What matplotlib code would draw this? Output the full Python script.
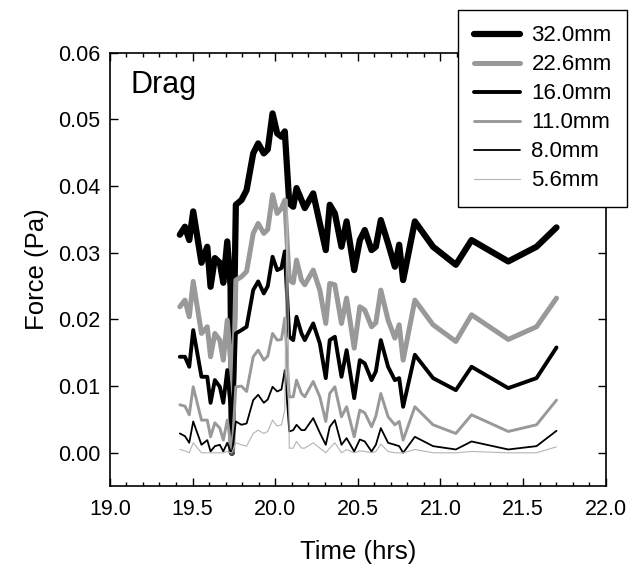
import numpy as np
import matplotlib
matplotlib.use('Agg')
from matplotlib import pyplot as plt
from matplotlib.ticker import MultipleLocator, FormatStrFormatter

plt.rcParams.update({'font.family': ['Liberation Sans', 'DejaVu Sans'], 'font.size': 15.5})

# time (hrs), shared by the size classes
t = [19.423, 19.454, 19.48, 19.504, 19.554, 19.589, 19.609, 19.635, 19.665, 19.686,
     19.71, 19.73, 19.738, 19.762, 19.796, 19.827, 19.867, 19.897, 19.931, 19.955,
     19.984, 20.012, 20.038, 20.058, 20.085, 20.109, 20.129, 20.159, 20.179, 20.23,
     20.27, 20.306, 20.33, 20.361, 20.401, 20.432, 20.478, 20.512, 20.542, 20.583,
     20.609, 20.639, 20.683, 20.724, 20.75, 20.774, 20.845, 20.955, 21.093, 21.188,
     21.41, 21.581, 21.702]

f320 = [0.0327, 0.0339, 0.0319, 0.0362, 0.0285, 0.0309, 0.0249, 0.0292, 0.0285, 0.0255,
        0.0317, 0.0249, 0.0000, 0.0372, 0.0379, 0.0394, 0.0449, 0.0464, 0.0449, 0.0455,
        0.0509, 0.0479, 0.0474, 0.0482, 0.0374, 0.0369, 0.0397, 0.0379, 0.0367, 0.0389,
        0.0344, 0.0304, 0.0372, 0.0359, 0.0309, 0.0347, 0.0274, 0.0319, 0.0334, 0.0304,
        0.0309, 0.0349, 0.0314, 0.0279, 0.0312, 0.0259, 0.0347, 0.0309, 0.0282, 0.0319,
        0.0287, 0.0309, 0.0338]

f226 = [0.0219, 0.0229, 0.0204, 0.0257, 0.0179, 0.0189, 0.0144, 0.0179, 0.0169, 0.0139,
        0.0199, 0.0139, 0.0000, 0.0259, 0.0264, 0.0272, 0.0329, 0.0344, 0.0329, 0.0335,
        0.0387, 0.0359, 0.0367, 0.0379, 0.0259, 0.0255, 0.0289, 0.0259, 0.0252, 0.0274,
        0.0244, 0.0194, 0.0254, 0.0252, 0.0194, 0.0232, 0.0157, 0.0219, 0.0214, 0.0189,
        0.0195, 0.0244, 0.0199, 0.0172, 0.0192, 0.0139, 0.0229, 0.0192, 0.0167, 0.0207,
        0.0170, 0.0189, 0.0232]

f160 = [0.0144, 0.0144, 0.0129, 0.0184, 0.0114, 0.0114, 0.0075, 0.0109, 0.0099, 0.0075,
        0.0124, 0.0069, 0.0000, 0.0179, 0.0184, 0.0189, 0.0244, 0.0257, 0.0239, 0.0250,
        0.0294, 0.0274, 0.0277, 0.0302, 0.0174, 0.0169, 0.0204, 0.0179, 0.0169, 0.0194,
        0.0164, 0.0112, 0.0169, 0.0174, 0.0114, 0.0154, 0.0082, 0.0139, 0.0134, 0.0109,
        0.0122, 0.0169, 0.0129, 0.0109, 0.0112, 0.0069, 0.0147, 0.0112, 0.0094, 0.0129,
        0.0097, 0.0112, 0.0158]

f110 = [0.0072, 0.0070, 0.0057, 0.0099, 0.0049, 0.0049, 0.0024, 0.0045, 0.0037, 0.0019,
        0.0049, 0.0015, 0.0000, 0.0099, 0.0100, 0.0092, 0.0144, 0.0154, 0.0139, 0.0145,
        0.0179, 0.0169, 0.0170, 0.0202, 0.0084, 0.0084, 0.0109, 0.0089, 0.0084, 0.0107,
        0.0084, 0.0047, 0.0089, 0.0099, 0.0054, 0.0069, 0.0024, 0.0064, 0.0060, 0.0039,
        0.0055, 0.0089, 0.0054, 0.0042, 0.0047, 0.0019, 0.0069, 0.0042, 0.0029, 0.0057,
        0.0032, 0.0042, 0.0079]

f080 = [0.0029, 0.0025, 0.0015, 0.0047, 0.0012, 0.0019, 0.0002, 0.0010, 0.0012, 0.0002,
        0.0015, 0.0002, 0.0000, 0.0047, 0.0042, 0.0044, 0.0079, 0.0087, 0.0075, 0.0080,
        0.0099, 0.0092, 0.0095, 0.0124, 0.0032, 0.0034, 0.0042, 0.0034, 0.0034, 0.0052,
        0.0030, 0.0012, 0.0039, 0.0049, 0.0012, 0.0022, 0.0002, 0.0020, 0.0017, 0.0002,
        0.0012, 0.0037, 0.0015, 0.0012, 0.0010, 0.0000, 0.0024, 0.0010, 0.0005, 0.0017,
        0.0005, 0.0010, 0.0033]

# the 5.6mm record has one extra reading (a spike) at 20.072 hrs
t056 = t[:24] + [20.072] + t[24:]
f056 = [0.0005, 0.0003, 0.0000, 0.0015, 0.0000, 0.0000, 0.0000, 0.0000, 0.0000, 0.0000,
        0.0002, 0.0000, 0.0000, 0.0015, 0.0012, 0.0010, 0.0029, 0.0034, 0.0029, 0.0032,
        0.0049, 0.0040, 0.0042, 0.0064, 0.0380, 0.0007, 0.0007, 0.0017, 0.0007, 0.0007,
        0.0015, 0.0007, 0.0000, 0.0007, 0.0015, 0.0000, 0.0005, 0.0000, 0.0003, 0.0002,
        0.0000, 0.0002, 0.0013, 0.0002, 0.0000, 0.0000, 0.0000, 0.0005, 0.0000, 0.0000,
        0.0002, 0.0000, 0.0000, 0.0009]

labels = ['32.0mm', '22.6mm', '16.0mm', '11.0mm', '8.0mm', '5.6mm']
times = [t, t, t, t, t, t056]
series = [f320, f226, f160, f110, f080, f056]
colors = ['black', '#999999', 'black', '#999999', 'black', '#b4b4b4']
widths = [4.5, 3.6, 2.8, 2.1, 1.3, 0.8]

fig = plt.figure(figsize=(6.39, 5.76), dpi=100)
ax = fig.add_axes([0.172, 0.156, 0.776, 0.7525])

for x, y, lab, c, w in zip(times, series, labels, colors, widths):
    ax.plot(x, y, color=c, lw=w, label=lab, solid_joinstyle='round', solid_capstyle='round')

ax.set_xlim(19.0, 22.0)
ax.set_ylim(-0.005, 0.06)
ax.xaxis.set_major_locator(MultipleLocator(0.5))
ax.xaxis.set_minor_locator(MultipleLocator(0.1))
ax.yaxis.set_major_locator(MultipleLocator(0.01))
ax.xaxis.set_major_formatter(FormatStrFormatter('%.1f'))
ax.yaxis.set_major_formatter(FormatStrFormatter('%.2f'))
ax.tick_params(which='both', direction='in', top=True, right=True, width=1)
ax.tick_params(which='major', length=6)
ax.tick_params(which='minor', length=3)
ax.tick_params(axis='x', which='major', pad=9)
ax.tick_params(axis='y', which='major', pad=7)
for s in ax.spines.values():
    s.set_linewidth(1.2)

ax.set_xlabel('Time (hrs)', fontsize=18.5, labelpad=15)
ax.set_ylabel('Force (Pa)', fontsize=18.5, labelpad=6)
ax.text(0.042, 0.907, 'Drag', transform=ax.transAxes, fontsize=22)

leg = fig.legend(loc='upper left', bbox_to_anchor=(0.717, 0.983), fontsize=16,
                 handlelength=2.1, handletextpad=0.5, labelspacing=0.36, borderpad=0.7,
                 borderaxespad=0, fancybox=False, framealpha=1, edgecolor='black')
leg.get_frame().set_linewidth(1.0)

fig.savefig('out.png', dpi=100)
